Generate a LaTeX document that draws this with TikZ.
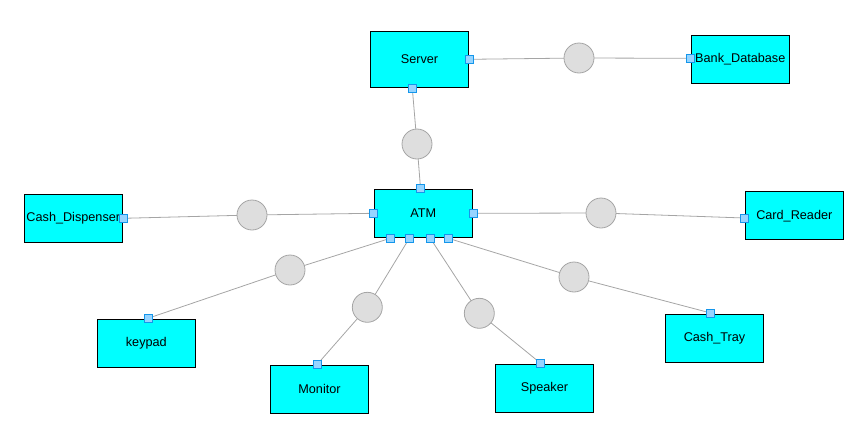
\documentclass[tikz,border=0pt]{standalone}
\usepackage{fontspec}
\setmainfont{Liberation Sans}
\pgfdeclarelayer{bg}
\pgfsetlayers{bg,main}

\tikzset{
  comp/.style={draw={rgb, 255:red, 0; green, 0; blue, 0 }, fill={rgb, 255:red, 0; green, 255; blue, 255 }, line width=0.75, minimum width=73.5pt, minimum height=36pt, inner sep=0pt, font=\fontsize{9.5}{11}\selectfont},
  port/.style={draw={rgb, 255:red, 20; green, 150; blue, 235 }, fill={rgb, 255:red, 150; green, 212; blue, 255 }, line width=0.75, minimum size=6pt, inner sep=0pt},
  ball/.style={circle, draw={rgb, 255:red, 165; green, 165; blue, 165 }, fill={rgb, 255:red, 222; green, 222; blue, 222 }, line width=0.6, minimum size=22.5pt, inner sep=0pt},
  wire/.style={draw={rgb, 255:red, 165; green, 165; blue, 165 }, line width=0.6}
}

\begin{document}
\begin{tikzpicture}[x=0.75pt,y=0.75pt,yscale=-1,xscale=1]
\path (0,0) rectangle (863,443); %set diagram size

% Components
\node [comp, minimum height=42pt] (server) at (419.5,59) {Server};
\node [comp] (bankdb) at (740.3,59.5) {Bank\_Database};
\node [comp] (atm) at (423.3,213.3) {ATM};
\node [comp] (dispenser) at (73.3,218.3) {Cash\_Dispenser};
\node [comp] (reader) at (794.3,215.7) {Card\_Reader};
\node [comp] (keypad) at (146.3,343) {keypad};
\node [comp] (monitor) at (319.5,389) {Monitor};
\node [comp] (speaker) at (544.5,388.2) {Speaker};
\node [comp] (tray) at (714.5,338) {Cash\_Tray};

% Ports
\node [port] (pServerR) at (469.3,59.3) {};
\node [port] (pServerB) at (412.3,88.3) {};
\node [port] (pBankL) at (690.3,58.3) {};
\node [port] (pAtmT) at (420.5,188) {};
\node [port] (pAtmL) at (373.3,213.3) {};
\node [port] (pAtmR) at (473.7,213.3) {};
\node [port] (pAtmB1) at (390.3,238.3) {};
\node [port] (pAtmB2) at (409.3,238.3) {};
\node [port] (pAtmB3) at (430.3,238.3) {};
\node [port] (pAtmB4) at (448.3,238.3) {};
\node [port] (pDisp) at (123.3,218.3) {};
\node [port] (pReader) at (744.3,218) {};
\node [port] (pKeypad) at (148,318.3) {};
\node [port] (pMonitor) at (317.3,364.3) {};
\node [port] (pSpeaker) at (540.3,363) {};
\node [port] (pTray) at (710.7,313) {};

% Balls
\node [ball] (bBank) at (579,58) {};
\node [ball] (bServer) at (417,144) {};
\node [ball] (bDisp) at (252,215) {};
\node [ball] (bReader) at (601,213) {};
\node [ball] (bKeypad) at (290,270) {};
\node [ball] (bMonitor) at (367.3,307.3) {};
\node [ball] (bSpeaker) at (479.3,313.3) {};
\node [ball] (bTray) at (574,277) {};

% Wires
\begin{pgfonlayer}{bg}
\draw [wire] (pServerR.center) -- (bBank.center) -- (pBankL.center);
\draw [wire] (pServerB.center) -- (bServer.center) -- (pAtmT.center);
\draw [wire] (pAtmL.center) -- (bDisp.center) -- (pDisp.center);
\draw [wire] (pAtmR.center) -- (bReader.center) -- (pReader.center);
\draw [wire] (pAtmB1.center) -- (bKeypad.center) -- (pKeypad.center);
\draw [wire] (pAtmB2.center) -- (bMonitor.center) -- (pMonitor.center);
\draw [wire] (pAtmB3.center) -- (bSpeaker.center) -- (pSpeaker.center);
\draw [wire] (pAtmB4.center) -- (bTray.center) -- (pTray.center);
\end{pgfonlayer}

\end{tikzpicture}
\end{document}
